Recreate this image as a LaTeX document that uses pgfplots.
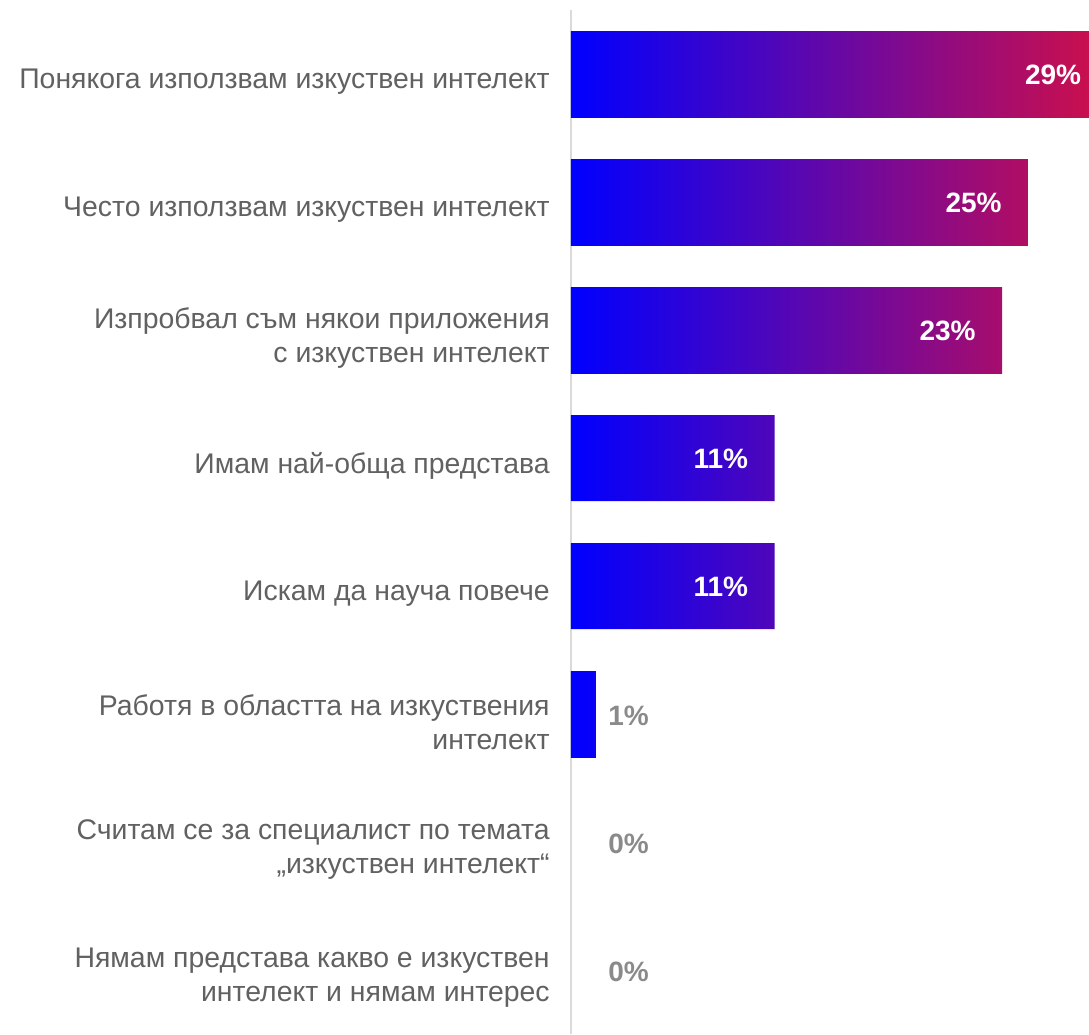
\documentclass[border=0pt]{standalone}
\usepackage{pgfplots}
\pgfplotsset{compat=1.18}
\usepackage{fontspec}
\setmainfont{Liberation Sans}

\definecolor{barblue}{HTML}{0000FF}
\definecolor{barred}{HTML}{D01048}
\definecolor{labgray}{HTML}{616161}
\definecolor{valgray}{HTML}{8A8A8A}
\definecolor{axgray}{HTML}{DADADA}

\tikzset{
  inlabel/.style  = {anchor=east, xshift=-13pt, yshift=-0.5pt, inner sep=0pt,
                     text=white, font=\fontsize{14}{16}\selectfont\bfseries},
  outlabel/.style = {anchor=west, yshift=-1pt, inner sep=0pt, text=valgray,
                     font=\fontsize{14}{16}\selectfont\bfseries},
}

\begin{document}
\begin{tikzpicture}
  \begin{axis}
   [
     name         = ax,
     scale only axis,
     width        = 259pt,
     height       = 512pt,
     xmin         = 0,
     xmax         = 28,
     ymin         = 0.5,
     ymax         = 8.5,
     y dir        = reverse,
     clip mode    = individual,
     hide x axis,
     axis y line  = left,
     axis line style = {-, draw=axgray, line width=1pt},
     ytick        = {1,...,8},
     major tick length = 0pt,
     yticklabels  = {
       {Понякога използвам изкуствен интелект},
       {Често използвам изкуствен интелект},
       {Изпробвал съм някои приложения\\с изкуствен интелект},
       {Имам най-обща представа},
       {Искам да науча повече},
       {Работя в областта на изкуствения\\интелект},
       {Считам се за специалист по темата\\„изкуствен интелект“},
       {Нямам представа какво е изкуствен\\интелект и нямам интерес}
     },
     yticklabel style = {align=right, text=labgray, inner sep=0pt,
                         xshift=-10.5pt, yshift=-4pt,
                         font=\fontsize{14.2}{17}\selectfont},
     bar width    = 43pt,
     point meta   = explicit symbolic,
     mybar/.style = {xbar, bar shift=0pt, draw=none, left color=barblue},
     nodes near coords style = {inlabel},
   ]
   % colour at the bar end follows its length (29% = full red)
   \addplot[mybar, right color=barred]
     coordinates {(29.0,1)};
   \addplot[mybar, right color=barred!85!barblue, nodes near coords]
     coordinates {(24.7,2) [25\%]};
   \addplot[mybar, right color=barred!80!barblue, nodes near coords]
     coordinates {(23.3,3) [23\%]};
   \addplot[mybar, right color=barred!38!barblue, nodes near coords]
     coordinates {(11.0,4) [11\%] (11.0,5) [11\%]};
   \addplot[mybar, right color=barred!5!barblue]
     coordinates {(1.35,6)};
   \addplot[mybar, right color=barblue]
     coordinates {(0,7) (0,8)};

   \node[inlabel] at (axis cs:29,1) {29\%};
   \node[outlabel] at (axis cs:2,6) {1\%};
   \node[outlabel] at (axis cs:2,7) {0\%};
   \node[outlabel] at (axis cs:2,8) {0\%};
  \end{axis}
  \pgfresetboundingbox
  \path[use as bounding box] ([xshift=-285.5pt]ax.south west) rectangle ([yshift=5pt]ax.north east);
\end{tikzpicture}
\end{document}
